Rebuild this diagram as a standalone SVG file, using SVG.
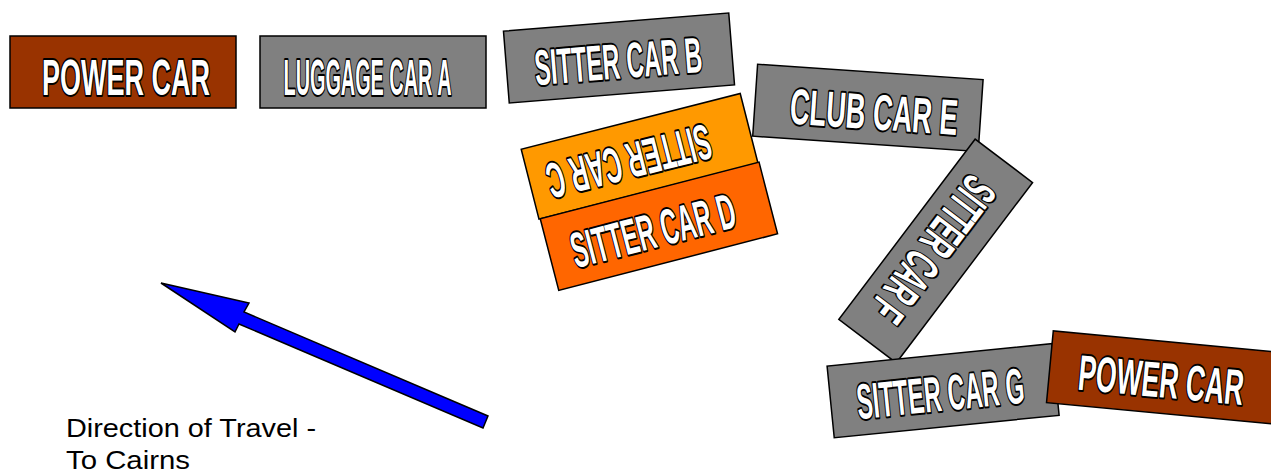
<svg xmlns="http://www.w3.org/2000/svg" width="1271" height="471" viewBox="0 0 1271 471">
<style>
.box{stroke:#000;stroke-width:1.5}
.brown{fill:#993300}
.grey{fill:#808080}
.orange{fill:#FF9900}
.dorange{fill:#FF6600}
.lbl{font-family:"Liberation Sans",Arial,sans-serif;font-weight:bold;font-size:50px;fill:#fff;stroke:#000;stroke-width:4;stroke-linejoin:round;paint-order:stroke;text-anchor:middle}
.note{font-family:"Liberation Sans",Arial,sans-serif;font-size:26px;fill:#000}
</style>
<rect width="1271" height="471" fill="#fff"/>
<g id="power-car-1" transform="translate(123,72)">
<rect class="box brown" x="-113" y="-36" width="226" height="72"/>
<text class="lbl" x="3" y="23" textLength="168" lengthAdjust="spacingAndGlyphs">POWER CAR</text>
</g>
<g id="luggage-car-a" transform="translate(373,72)">
<rect class="box grey" x="-113" y="-36" width="226" height="72"/>
<text class="lbl" x="-5.5" y="23" textLength="168" lengthAdjust="spacingAndGlyphs">LUGGAGE CAR A</text>
</g>
<g id="sitter-car-b" transform="translate(619,58) rotate(-4.6)">
<rect class="box grey" x="-113" y="-36" width="226" height="72"/>
<text class="lbl" x="-1" y="20.5" textLength="168" lengthAdjust="spacingAndGlyphs">SITTER CAR B</text>
</g>
<g id="sitter-car-c" transform="translate(639.6,156.3) rotate(-14.3)">
<rect class="box orange" x="-113" y="-36" width="226" height="72"/>
<g transform="translate(-11.7,2.9) rotate(180)">
<text class="lbl" x="0" y="18" textLength="168" lengthAdjust="spacingAndGlyphs">SITTER CAR C</text>
</g>
</g>
<g id="sitter-car-d" transform="translate(658.9,226.3) rotate(-14.5)">
<rect class="box dorange" x="-113" y="-37" width="226" height="74"/>
<text class="lbl" x="-6.7" y="20" textLength="168" lengthAdjust="spacingAndGlyphs">SITTER CAR D</text>
</g>
<g id="club-car-e" transform="translate(867.9,107.9) rotate(3.9)">
<rect class="box grey" x="-113" y="-36" width="226" height="72"/>
<text class="lbl" x="6.3" y="21" textLength="168" lengthAdjust="spacingAndGlyphs">CLUB CAR E</text>
</g>
<g id="sitter-car-f" transform="translate(935.7,251) rotate(127.1)">
<rect class="box grey" x="-113" y="-36" width="226" height="72"/>
<text class="lbl" x="0" y="20" textLength="168" lengthAdjust="spacingAndGlyphs">SITTER CAR F</text>
</g>
<g id="sitter-car-g" transform="translate(943.1,390.7) rotate(-5.7)">
<rect class="box grey" x="-113" y="-36" width="226" height="72"/>
<text class="lbl" x="-3" y="20" textLength="168" lengthAdjust="spacingAndGlyphs">SITTER CAR G</text>
</g>
<g id="power-car-2" transform="translate(1162.4,377.4) rotate(5.4)">
<rect class="box brown" x="-113" y="-36" width="226" height="72"/>
<text class="lbl" x="-1" y="20" textLength="166" lengthAdjust="spacingAndGlyphs">POWER CAR</text>
</g>
<g id="direction-arrow">
<polygon points="161,283 249,303 244,312 488,416 483,428 239,324 235,332" fill="#0000FF" stroke="#000" stroke-width="1.5" stroke-linejoin="miter"/>
</g>
<g id="direction-label">
<text class="note" x="66" y="437" textLength="250" lengthAdjust="spacingAndGlyphs">Direction of Travel -</text>
<text class="note" x="66" y="468.5" textLength="124" lengthAdjust="spacingAndGlyphs">To Cairns</text>
</g>
</svg>
